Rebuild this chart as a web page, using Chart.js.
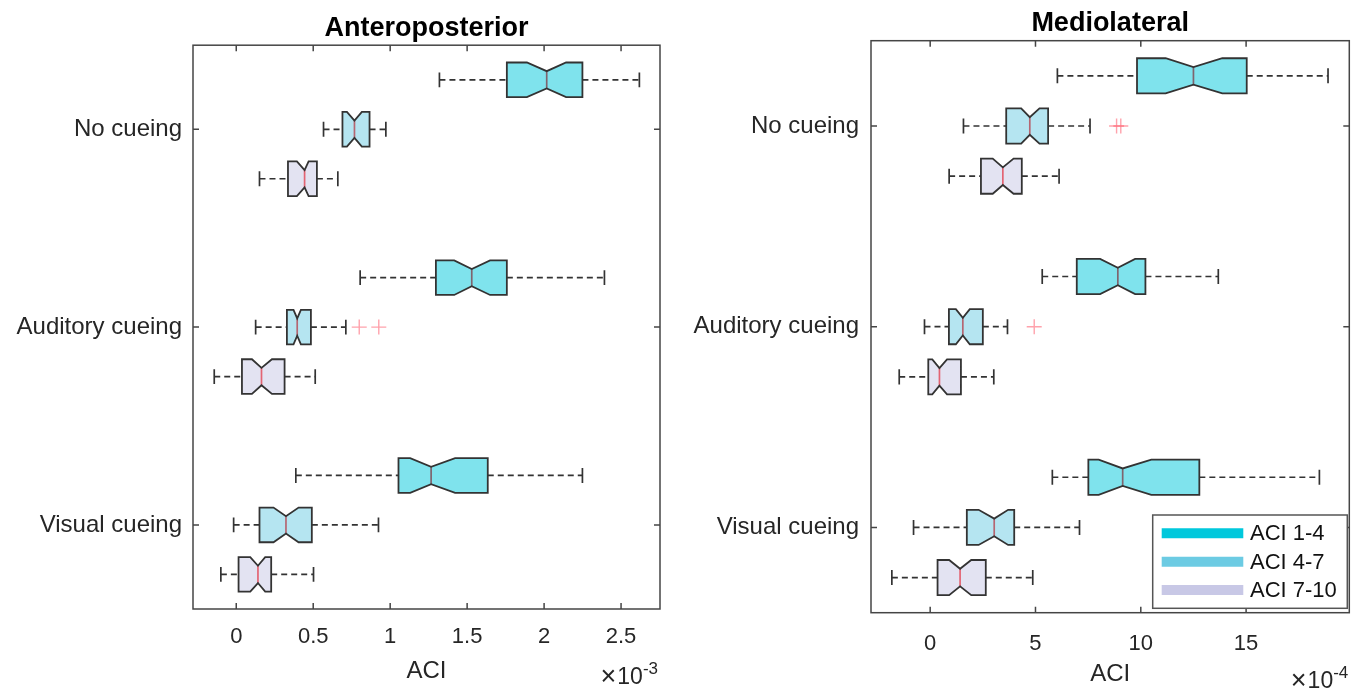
<!DOCTYPE html>
<html>
<head>
<meta charset="utf-8">
<title>ACI boxplots</title>
<script src="https://cdn.jsdelivr.net/npm/chart.js@4.4.1/dist/chart.umd.min.js"></script>
<style>
  html, body { margin: 0; padding: 0; background: #ffffff; }
  #wrap { position: relative; width: 1361px; height: 692px; overflow: hidden; }
  canvas { position: absolute; top: 0; }
  #c1 { left: 0; }
  #c2 { left: 680px; }
</style>
</head>
<body>
<div id="wrap">
  <canvas id="c1" width="680" height="692"></canvas>
  <canvas id="c2" width="681" height="692"></canvas>
</div>
<script>
const FONT = "'Liberation Sans', Arial, Helvetica, sans-serif";

const groups = ['No cueing', 'Auditory cueing', 'Visual cueing'];
const series = ['ACI 1-4', 'ACI 4-7', 'ACI 7-10'];
const seriesColors = ['#00c8dc', '#6ccbe3', '#c8c8e6'];

// Box order: No cueing (ACI 1-4, 4-7, 7-10), Auditory cueing (...), Visual cueing (...)
// Anteroposterior, ACI x 10^-3
const apLow     = [1.320, 0.567, 0.151,  0.805, 0.126, -0.143,  0.387, -0.017, -0.100];
const apQ1      = [1.758, 0.690, 0.336,  1.297, 0.329,  0.037,  1.054,  0.151,  0.015];
const apMedian  = [2.017, 0.768, 0.444,  1.530, 0.396,  0.164,  1.266,  0.323,  0.141];
const apQ3      = [2.249, 0.866, 0.524,  1.758, 0.485,  0.314,  1.634,  0.491,  0.227];
const apHigh    = [2.619, 0.972, 0.660,  2.392, 0.712,  0.513,  2.249,  0.924,  0.502];
const apNotchLo = [1.888, 0.719, 0.394,  1.416, 0.372,  0.102,  1.130,  0.242,  0.091];
const apNotchHi = [2.143, 0.816, 0.470,  1.649, 0.420,  0.232,  1.422,  0.405,  0.188];
const apOutliers   = [0.799, 0.926];
const apOutlierBox = [4, 4];
const apTicks = [0, 0.5, 1, 1.5, 2, 2.5];

// Mediolateral, ACI x 10^-4
const mlLow     = [6.04, 1.58, 0.90,  5.32, -0.27, -1.47,  5.80, -0.79, -1.82];
const mlQ1      = [9.82, 3.61, 2.41,  6.96,  0.89, -0.09,  7.51,  1.74,  0.35];
const mlMedian  = [12.50, 4.73, 3.45, 8.91,  1.55,  0.44,  9.14,  3.04,  1.42];
const mlQ3      = [15.03, 5.60, 4.35, 10.22, 2.50,  1.46, 12.78,  3.99,  2.64];
const mlHigh    = [18.89, 7.59, 6.12, 13.68, 3.67,  3.02, 18.48,  7.09,  4.87];
const mlNotchLo = [11.18, 4.32, 2.97, 8.07,  1.22,  0.10,  8.00,  2.30,  0.90];
const mlNotchHi = [13.87, 5.19, 3.96, 9.73,  1.88,  0.80, 10.50,  3.70,  1.95];
const mlOutliers   = [8.85, 9.05, 4.94];
const mlOutlierBox = [1, 1, 4];
const mlTicks = [0, 5, 10, 15];

// vertical slots: group centres, boxes one slot apart inside a group
const groupPos = [2, 6, 10];
const seriesOffset = [-1, 0, 1];
const slotOf = i => groupPos[Math.floor(i / 3)] + seriesOffset[i % 3];

function hexToRgba(hex, a) {
  const n = parseInt(hex.slice(1), 16);
  return `rgba(${(n >> 16) & 255},${(n >> 8) & 255},${n & 255},${a})`;
}

const notchedBoxes = {
  id: 'notchedBoxes',
  beforeDatasetsDraw(chart, args, opts) {
    const { ctx, chartArea } = chart;
    const xs = chart.scales.x, ys = chart.scales.y;
    const st = opts.stats;
    const unit = Math.abs(ys.getPixelForValue(1) - ys.getPixelForValue(0));
    const h = 0.35 * unit, hn = h / 2, hc = 0.15 * unit;
    ctx.save();
    ctx.beginPath();
    ctx.rect(chartArea.left, chartArea.top, chartArea.width, chartArea.height);
    ctx.clip();
    for (let i = 0; i < st.median.length; i++) {
      const yc = ys.getPixelForValue(slotOf(i));
      const px = v => xs.getPixelForValue(v);
      const lo = px(st.low[i]), q1 = px(st.q1[i]), md = px(st.median[i]);
      const q3 = px(st.q3[i]), hi = px(st.high[i]);
      const nl = px(st.notchLo[i]), nh = px(st.notchHi[i]);
      // whiskers
      ctx.strokeStyle = '#333333';
      ctx.lineWidth = 1.7;
      ctx.setLineDash([6, 4]);
      ctx.beginPath();
      ctx.moveTo(lo, yc); ctx.lineTo(q1, yc);
      ctx.moveTo(q3, yc); ctx.lineTo(hi, yc);
      ctx.stroke();
      ctx.setLineDash([]);
      ctx.beginPath();
      ctx.moveTo(lo, yc - hc); ctx.lineTo(lo, yc + hc);
      ctx.moveTo(hi, yc - hc); ctx.lineTo(hi, yc + hc);
      ctx.stroke();
      // median under the translucent box face
      ctx.strokeStyle = '#ff0000';
      ctx.lineWidth = 1.7;
      ctx.beginPath();
      ctx.moveTo(md, yc - hn); ctx.lineTo(md, yc + hn);
      ctx.stroke();
      // notched box
      ctx.beginPath();
      ctx.moveTo(q1, yc - h);
      ctx.lineTo(nl, yc - h);
      ctx.lineTo(md, yc - hn);
      ctx.lineTo(nh, yc - h);
      ctx.lineTo(q3, yc - h);
      ctx.lineTo(q3, yc + h);
      ctx.lineTo(nh, yc + h);
      ctx.lineTo(md, yc + hn);
      ctx.lineTo(nl, yc + h);
      ctx.lineTo(q1, yc + h);
      ctx.closePath();
      ctx.fillStyle = hexToRgba(seriesColors[i % 3], 0.5);
      ctx.fill();
      ctx.strokeStyle = '#333333';
      ctx.lineWidth = 1.8;
      ctx.lineJoin = 'miter';
      ctx.stroke();
    }
    ctx.restore();
  },
  afterDraw(chart, args, opts) {
    const { ctx, chartArea: ca } = chart;
    const xs = chart.scales.x, ys = chart.scales.y;
    ctx.save();
    // axes frame with inward ticks on all four sides
    ctx.strokeStyle = '#454545';
    ctx.lineWidth = 1.5;
    ctx.strokeRect(ca.left, ca.top, ca.width, ca.height);
    ctx.beginPath();
    xs.ticks.forEach(t => {
      const x = xs.getPixelForValue(t.value);
      ctx.moveTo(x, ca.bottom); ctx.lineTo(x, ca.bottom - 6);
      ctx.moveTo(x, ca.top); ctx.lineTo(x, ca.top + 6);
    });
    ys.ticks.forEach(t => {
      const y = ys.getPixelForValue(t.value);
      ctx.moveTo(ca.left, y); ctx.lineTo(ca.left + 6, y);
      ctx.moveTo(ca.right, y); ctx.lineTo(ca.right - 6, y);
    });
    ctx.stroke();
    // exponent multiplier under the x axis
    ctx.fillStyle = '#262626';
    ctx.textBaseline = 'alphabetic';
    ctx.textAlign = 'right';
    ctx.font = `17px ${FONT}`;
    let x = ca.right + opts.expDx;
    ctx.fillText(opts.exponent, x, opts.expY - 10);
    x -= ctx.measureText(opts.exponent).width;
    ctx.font = `23px ${FONT}`;
    ctx.fillText('10', x, opts.expY);
    x -= ctx.measureText('10').width + 1;
    ctx.font = `27px ${FONT}`;
    ctx.fillText('\u00d7', x, opts.expY + 1);
    // legend box
    if (opts.legend) {
      const L = ca.right - 196.6, R = ca.right - 2, T = ca.bottom - 97.7, B = ca.bottom - 4.4;
      ctx.fillStyle = '#ffffff';
      ctx.fillRect(L, T, R - L, B - T);
      ctx.strokeStyle = '#555555';
      ctx.lineWidth = 1.5;
      ctx.strokeRect(L, T, R - L, B - T);
      series.forEach((name, k) => {
        const y = T + 18.3 + k * 28.4;
        ctx.strokeStyle = seriesColors[k];
        ctx.lineWidth = 10;
        ctx.beginPath();
        ctx.moveTo(L + 9, y); ctx.lineTo(L + 90.6, y);
        ctx.stroke();
        ctx.fillStyle = '#111111';
        ctx.textAlign = 'left';
        ctx.textBaseline = 'middle';
        ctx.font = `22px ${FONT}`;
        ctx.fillText(name, L + 97.3, y + 1);
      });
    }
    ctx.restore();
  }
};

function makePanel(canvasId, cfg) {
  const outlierPoints = cfg.outliers.map((v, k) => ({ x: v, y: slotOf(cfg.outlierBox[k]) }));
  return new Chart(document.getElementById(canvasId), {
    type: 'scatter',
    data: {
      datasets: [{
        label: 'Outliers',
        data: outlierPoints,
        pointStyle: 'cross',
        pointRadius: 7.5,
        borderColor: 'rgba(255,70,90,0.5)',
        borderWidth: 1.4,
        backgroundColor: 'rgba(0,0,0,0)'
      }]
    },
    options: {
      responsive: false,
      animation: false,
      events: [],
      layout: { padding: { left: 0, right: cfg.padRight, top: 0, bottom: 0 } },
      scales: {
        x: {
          type: 'linear',
          position: 'bottom',
          min: cfg.xMin, max: cfg.xMax,
          afterBuildTicks: s => { s.ticks = cfg.ticks.map(v => ({ value: v })); },
          afterFit: s => { s.height = cfg.xAxisHeight; },
          grid: { display: false, drawTicks: false },
          border: { display: false },
          ticks: {
            autoSkip: false, maxRotation: 0,
            padding: cfg.xTickPad,
            color: '#262626',
            font: { family: FONT, size: 22 },
            callback: v => String(v)
          },
          title: {
            display: true, text: 'ACI', color: '#262626',
            font: { family: FONT, size: 24 },
            padding: { top: 0, bottom: cfg.xTitlePadBottom }
          }
        },
        y: {
          type: 'linear',
          reverse: true,
          min: 0.3, max: 11.7,
          afterBuildTicks: s => { s.ticks = groupPos.map(v => ({ value: v })); },
          afterFit: s => { s.width = cfg.yAxisWidth; },
          grid: { display: false, drawTicks: false },
          border: { display: false },
          ticks: {
            autoSkip: false,
            padding: cfg.yTickPad,
            color: '#262626',
            font: { family: FONT, size: 24 },
            callback: (v, i) => groups[i]
          }
        }
      },
      plugins: {
        legend: { display: false },
        tooltip: { enabled: false },
        title: {
          display: true, text: cfg.title, fullSize: false,
          color: '#000000',
          font: { family: FONT, size: 27, weight: 'bold', lineHeight: 1.2 },
          padding: { top: cfg.titlePadTop, bottom: cfg.titlePadBottom }
        },
        notchedBoxes: {
          stats: cfg.stats,
          exponent: cfg.exponent,
          expY: cfg.expY,
          expDx: cfg.expDx,
          legend: cfg.legend
        }
      }
    },
    plugins: [notchedBoxes]
  });
}

makePanel('c1', {
  title: 'Anteroposterior',
  stats: { low: apLow, q1: apQ1, median: apMedian, q3: apQ3, high: apHigh, notchLo: apNotchLo, notchHi: apNotchHi },
  outliers: apOutliers, outlierBox: apOutlierBox,
  ticks: apTicks, xMin: -0.281, xMax: 2.753,
  exponent: '-3', expY: 684, expDx: -2,
  padRight: 20, yAxisWidth: 193, xAxisHeight: 83,
  xTickPad: 15, xTitlePadBottom: 6, yTickPad: 11,
  titlePadTop: 12.8, titlePadBottom: 0,
  legend: false
});

makePanel('c2', {
  title: 'Mediolateral',
  stats: { low: mlLow, q1: mlQ1, median: mlMedian, q3: mlQ3, high: mlHigh, notchLo: mlNotchLo, notchHi: mlNotchHi },
  outliers: mlOutliers, outlierBox: mlOutlierBox,
  ticks: mlTicks, xMin: -2.81, xMax: 19.9,
  exponent: '-4', expY: 688, expDx: -1,
  padRight: 11.7, yAxisWidth: 191, xAxisHeight: 79.3,
  xTickPad: 18, xTitlePadBottom: 3, yTickPad: 12,
  titlePadTop: 7.8, titlePadBottom: 0.5,
  legend: true
});
</script>
</body>
</html>
